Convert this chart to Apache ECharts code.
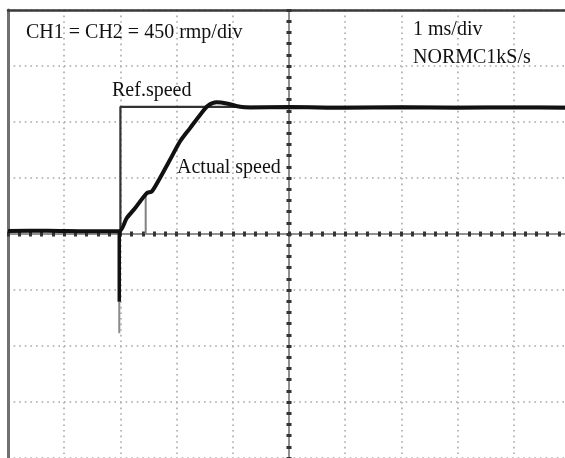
<!DOCTYPE html>
<html>
<head>
<meta charset="utf-8">
<script src="https://cdn.jsdelivr.net/npm/echarts@6/dist/echarts.min.js"></script>
<style>
  html, body { margin: 0; padding: 0; background: #fff; }
  #chart { width: 565px; height: 458px; }
</style>
</head>
<body>
<div id="chart"></div>
<script>
// Scope trace: time in ms (1 ms/div), speed in rpm (450 rpm/div)
const timeTicks = [-5, -4, -3, -2, -1, 0, 1, 2, 3, 4, 5];
const speedTicks = [-1800, -1350, -900, -450, 0, 450, 900, 1350, 1800];

// Reference speed step
const refTime  = [-5, -3.0, -3.0, 5];
const refSpeed = [24, 24, 1022, 1022];

// Measured speed
const actualTime  = [-5, -4.3, -3.6, -3.02, -2.89, -2.74, -2.53, -2.44, -2.30, -2.12, -1.94, -1.76, -1.58, -1.44, -1.29, -1.11, -0.87, -0.69, 0, 1, 2, 3, 4, 5];
const actualSpeed = [24, 26, 22, 22, 126, 207, 329, 342, 446, 594, 743, 851, 959, 1031, 1058, 1049, 1022, 1017, 1020, 1014, 1018, 1015, 1017, 1014];

// Undershoot of the speed probe at the step instant
const spikeTime  = [-3.02, -3.02];
const spikeSpeed = [24, -545];
const tailTime   = [-3.02, -3.02];
const tailSpeed  = [-545, -797];

// Sampling marker below the knee of the rise
const markTime  = [-2.55, -2.55];
const markSpeed = [0, 329];

function pairs(xs, ys) { return xs.map((x, i) => [x, ys[i]]); }

const gridDots = { color: '#a8a8a8', width: 1.6, type: [1.6, 4] };

function centerX(inside) {
  return {
    type: 'value', min: timeTicks[0], max: timeTicks[timeTicks.length - 1], interval: 1,
    position: 'bottom',
    axisLine: { show: true, onZero: true, onZeroAxisIndex: 0, lineStyle: { color: '#8a8a8a', width: 1.5 } },
    axisTick: { show: true, inside: inside, length: 2.5, lineStyle: { color: '#333', width: 3 } },
    minorTick: { show: true, splitNumber: 5, length: 2.5, lineStyle: { color: '#333', width: 3 } },
    axisLabel: { show: false }, splitLine: { show: false }
  };
}
function centerY(inside) {
  return {
    type: 'value', min: speedTicks[0], max: speedTicks[speedTicks.length - 1], interval: 450,
    position: 'left',
    axisLine: { show: true, onZero: true, onZeroAxisIndex: 0, lineStyle: { color: '#8a8a8a', width: 1.5 } },
    axisTick: { show: true, inside: inside, length: 2.5, lineStyle: { color: '#333', width: 3 } },
    minorTick: { show: true, splitNumber: 5, length: 2.5, lineStyle: { color: '#333', width: 3 } },
    axisLabel: { show: false }, splitLine: { show: false }
  };
}

const chart = echarts.init(document.getElementById('chart'), null, { renderer: 'canvas' });
const textFont = '20px "Liberation Serif", "Times New Roman", serif';
function label(text, x, baseline) {
  return {
    type: 'text', x: x, y: baseline - 7, z: 10,
    style: { text: text, font: textFont, fill: '#111', verticalAlign: 'middle', align: 'left' }
  };
}

chart.setOption({
  backgroundColor: '#fff',
  animation: false,
  grid: { left: 8, top: 10, width: 562, height: 448, containLabel: false, outerBoundsMode: 'none' },
  xAxis: [
    {
      type: 'value', min: timeTicks[0], max: timeTicks[timeTicks.length - 1], interval: 1,
      position: 'bottom',
      axisLine: { show: false, onZero: false }, axisTick: { show: false }, axisLabel: { show: false },
      splitLine: { show: true, lineStyle: gridDots }
    },
    centerX(false),
    centerX(true),
    {
      type: 'value', min: timeTicks[0], max: timeTicks[timeTicks.length - 1], interval: 1,
      position: 'top',
      axisLine: { show: true, onZero: false, lineStyle: { color: '#3a3a3a', width: 2.5 } },
      axisTick: { show: false }, axisLabel: { show: false }, splitLine: { show: false }
    }
  ],
  yAxis: [
    {
      type: 'value', min: speedTicks[0], max: speedTicks[speedTicks.length - 1], interval: 450,
      position: 'left',
      axisLine: { show: true, onZero: false, lineStyle: { color: '#707070', width: 3 } },
      axisTick: { show: false }, axisLabel: { show: false },
      splitLine: { show: true, lineStyle: gridDots }
    },
    centerY(false),
    centerY(true)
  ],
  series: [
    {
      name: 'Ref.speed', type: 'line', data: pairs(refTime, refSpeed),
      showSymbol: false, z: 3,
      lineStyle: { color: '#333', width: 2.2 }
    },
    {
      name: 'tail', type: 'line', data: pairs(tailTime, tailSpeed),
      showSymbol: false, z: 3,
      lineStyle: { color: '#8a8a8a', width: 2 }
    },
    {
      name: 'spike', type: 'line', data: pairs(spikeTime, spikeSpeed),
      showSymbol: false, z: 4,
      lineStyle: { color: '#111', width: 3.5 }
    },
    {
      name: 'mark', type: 'line', data: pairs(markTime, markSpeed),
      showSymbol: false, z: 3,
      lineStyle: { color: '#808080', width: 2 }
    },
    {
      name: 'Actual speed', type: 'line', data: pairs(actualTime, actualSpeed),
      showSymbol: false, z: 4, smooth: 0.25,
      lineStyle: { color: '#111', width: 4 }
    }
  ],
  graphic: [
    label('CH1 = CH2 = 450 rmp/div', 26, 39.5),
    label('1 ms/div', 413, 37),
    label('NORMC1kS/s', 413, 65),
    label('Ref.speed', 112, 98),
    label('Actual speed', 177, 175)
  ]
});
</script>
</body>
</html>
